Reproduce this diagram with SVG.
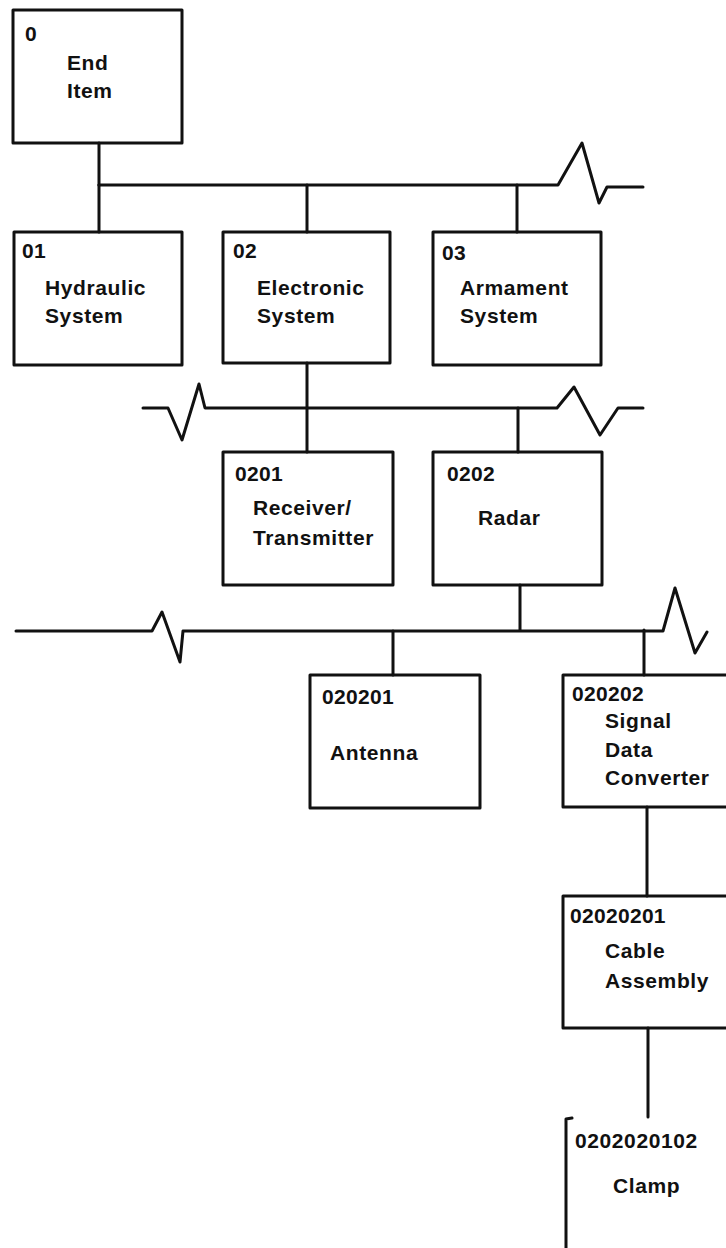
<svg xmlns="http://www.w3.org/2000/svg" width="726" height="1248" viewBox="0 0 726 1248">
<style>
.box{fill:none;stroke:#111;stroke-width:3;stroke-linejoin:round}
.ln{fill:none;stroke:#111;stroke-width:3;stroke-linejoin:round;stroke-linecap:round}
.id{font-family:"Liberation Sans",Arial,sans-serif;font-weight:bold;font-size:21px;fill:#111;letter-spacing:0.3px}
.lb{font-family:"Liberation Sans",Arial,sans-serif;font-weight:bold;font-size:21px;fill:#111;letter-spacing:0.6px}
</style>
<rect width="726" height="1248" fill="#fff"/>
<g id="connectors">
<path class="ln" d="M99,143 V185"/>
<path class="ln" d="M99,185 H558 L582,143 L599,203 L607,187 H643"/>
<path class="ln" d="M99,185 V232 M307,185 V232 M517,185 V232"/>
<path class="ln" d="M307,363 V452"/>
<path class="ln" d="M143,408 H168 L182,440 L199,384 L205,408 H557 L574,387 L600,435 L618,408 H643"/>
<path class="ln" d="M518,408 V452"/>
<path class="ln" d="M520,585 V630"/>
<path class="ln" d="M16,631 H152 L162,612 L180,662 L183,631 H520 H663 L675,588 L695,653 L707,632"/>
<path class="ln" d="M393,631 V675 M644,630 V675"/>
<path class="ln" d="M647,807 V896"/>
<path class="ln" d="M648,1028 V1117"/>
</g>
<g id="n0"><rect class="box" x="13" y="10" width="169" height="133"/><text class="id" x="25" y="41">0</text><text class="lb" x="67" y="70">End</text><text class="lb" x="67" y="98">Item</text></g>
<g id="n01"><rect class="box" x="14" y="232" width="168" height="133"/><text class="id" x="22" y="258">01</text><text class="lb" x="45" y="295">Hydraulic</text><text class="lb" x="45" y="323">System</text></g>
<g id="n02"><rect class="box" x="223" y="232" width="167" height="131"/><text class="id" x="233" y="258">02</text><text class="lb" x="257" y="295">Electronic</text><text class="lb" x="257" y="323">System</text></g>
<g id="n03"><rect class="box" x="433" y="232" width="168" height="133"/><text class="id" x="442" y="260">03</text><text class="lb" x="460" y="295">Armament</text><text class="lb" x="460" y="323">System</text></g>
<g id="n0201"><rect class="box" x="223" y="452" width="170" height="133"/><text class="id" x="235" y="481">0201</text><text class="lb" x="253" y="515">Receiver/</text><text class="lb" x="253" y="545">Transmitter</text></g>
<g id="n0202"><rect class="box" x="433" y="452" width="169" height="133"/><text class="id" x="447" y="481">0202</text><text class="lb" x="478" y="525">Radar</text></g>
<g id="n020201"><rect class="box" x="310" y="675" width="170" height="133"/><text class="id" x="322" y="704">020201</text><text class="lb" x="330" y="760">Antenna</text></g>
<g id="n020202"><rect class="box" x="563" y="675" width="170" height="132"/><text class="id" x="572" y="701">020202</text><text class="lb" x="605" y="728">Signal</text><text class="lb" x="605" y="757">Data</text><text class="lb" x="605" y="785">Converter</text></g>
<g id="n02020201"><rect class="box" x="563" y="896" width="170" height="132"/><text class="id" x="570" y="923">02020201</text><text class="lb" x="605" y="958">Cable</text><text class="lb" x="605" y="988">Assembly</text></g>
<g id="n0202020102"><path class="ln" d="M572,1118 L566,1119 V1250"/><text class="id" x="575" y="1148" style="letter-spacing:0.6px">0202020102</text><text class="lb" x="613" y="1193">Clamp</text></g>
</svg>
